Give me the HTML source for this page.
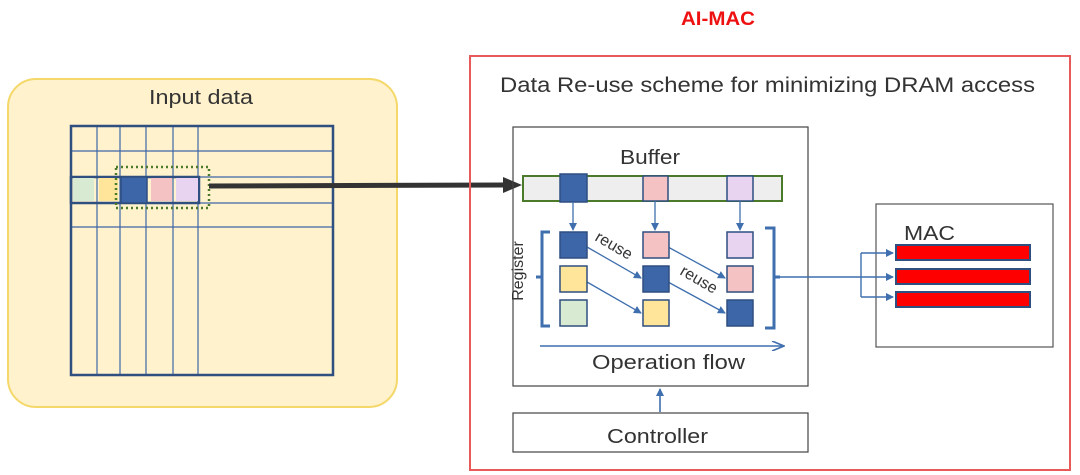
<!DOCTYPE html>
<html><head><meta charset="utf-8"><style>
html,body{margin:0;padding:0;background:#fff;width:1080px;height:475px;overflow:hidden}
svg{display:block}
text{font-family:"Liberation Sans",Arial,sans-serif}
</style></head><body>
<svg width="1080" height="475" viewBox="0 0 1080 475" xmlns="http://www.w3.org/2000/svg">
<defs>
<marker id="ab" markerWidth="8" markerHeight="8" refX="7" refY="4" orient="auto" markerUnits="userSpaceOnUse"><path d="M0,0 L8,4 L0,8 Z" fill="#3f6fae"/></marker>
<marker id="ao" markerWidth="14" markerHeight="10" refX="13" refY="5" orient="auto" markerUnits="userSpaceOnUse"><path d="M1,0 L13,5 L1,10" fill="none" stroke="#3f6fae" stroke-width="1.6"/></marker>
</defs>
<rect x="8" y="79" width="389" height="328" rx="28" fill="#fff2cc" stroke="#f5d86a" stroke-width="2"/>
<text x="149" y="104" font-size="20" fill="#333" textLength="104" lengthAdjust="spacingAndGlyphs">Input data</text>
<g stroke="#3d66a8" stroke-width="1.2">
<line x1="97" y1="126" x2="97" y2="374"/><line x1="120" y1="126" x2="120" y2="374"/>
<line x1="146" y1="126" x2="146" y2="374"/><line x1="173" y1="126" x2="173" y2="374"/>
<line x1="198" y1="126" x2="198" y2="374"/>
<line x1="71" y1="151" x2="333" y2="151"/><line x1="71" y1="177" x2="333" y2="177"/>
<line x1="71" y1="203" x2="333" y2="203"/><line x1="71" y1="227" x2="333" y2="227"/>
</g>
<rect x="71" y="126" width="262" height="249" fill="none" stroke="#2e4f80" stroke-width="2.5"/>
<rect x="71" y="177" width="128" height="26" fill="none" stroke="#2e4f80" stroke-width="2.5"/>
<rect x="73" y="178" width="21" height="23" fill="#d9ead3"/>
<rect x="99" y="178" width="19" height="23" fill="#ffe599"/>
<rect x="121" y="177" width="26" height="26" fill="#3d66a8" stroke="#2e4f80" stroke-width="1.5"/>
<rect x="151" y="178" width="21" height="23" fill="#f4c2c2"/>
<rect x="176" y="178" width="22" height="23" fill="#e8d4f1"/>
<rect x="116" y="167" width="93" height="41" fill="none" stroke="#4a7a2a" stroke-width="2.5" stroke-dasharray="2,3"/>
<line x1="209" y1="186" x2="505" y2="185" stroke="#333" stroke-width="5"/>
<path d="M503,177 L522,185 L503,193 Z" fill="#333"/>
<text x="681" y="25" font-size="19" font-weight="bold" fill="#ee1111" textLength="74" lengthAdjust="spacingAndGlyphs">AI-MAC</text>
<rect x="470" y="56" width="600" height="414" fill="none" stroke="#e85a5a" stroke-width="2"/>
<text x="500" y="92" font-size="21" fill="#333" textLength="535" lengthAdjust="spacingAndGlyphs">Data Re-use scheme for minimizing DRAM access</text>
<rect x="513" y="127" width="295" height="259" fill="none" stroke="#444" stroke-width="1.2"/>
<text x="620" y="164" font-size="20" fill="#333" textLength="60" lengthAdjust="spacingAndGlyphs">Buffer</text>
<rect x="523" y="176" width="259" height="25" fill="#eeeeee" stroke="#4a7a2a" stroke-width="2"/>
<g stroke="#2e4f80" stroke-width="1.5">
<rect x="560" y="174" width="27" height="28" fill="#3d66a8"/>
<rect x="643" y="176" width="25" height="25" fill="#f4c2c2"/>
<rect x="727" y="176" width="26" height="25" fill="#e8d4f1"/>
</g>
<g stroke="#3f6fae" stroke-width="1.3">
<line x1="573" y1="202" x2="573" y2="230" marker-end="url(#ab)"/>
<line x1="655" y1="201" x2="655" y2="230" marker-end="url(#ab)"/>
<line x1="740" y1="201" x2="740" y2="230" marker-end="url(#ab)"/>
<line x1="587" y1="247" x2="641" y2="278" marker-end="url(#ab)"/>
<line x1="587" y1="282" x2="641" y2="313" marker-end="url(#ab)"/>
<line x1="668" y1="247" x2="725" y2="278" marker-end="url(#ab)"/>
<line x1="668" y1="282" x2="725" y2="313" marker-end="url(#ab)"/>
</g>
<g stroke="#2e4f80" stroke-width="1.5">
<rect x="560" y="232" width="27" height="26" fill="#3d66a8"/>
<rect x="560" y="266" width="27" height="26" fill="#ffe599"/>
<rect x="560" y="300" width="27" height="26" fill="#d9ead3"/>
<rect x="643" y="232" width="26" height="26" fill="#f4c2c2"/>
<rect x="643" y="266" width="26" height="26" fill="#3d66a8"/>
<rect x="643" y="300" width="26" height="26" fill="#ffe599"/>
<rect x="727" y="232" width="26" height="26" fill="#e8d4f1"/>
<rect x="727" y="266" width="26" height="26" fill="#f4c2c2"/>
<rect x="727" y="300" width="26" height="26" fill="#3d66a8"/>
</g>
<text x="0" y="0" font-size="16" fill="#333" transform="translate(594,240) rotate(30)">reuse</text>
<text x="0" y="0" font-size="16" fill="#333" transform="translate(679,274) rotate(30)">reuse</text>
<text x="0" y="0" font-size="16" fill="#333" text-anchor="middle" transform="translate(523,271) rotate(-90)">Register</text>
<path d="M550,232 L542,232 L542,277 L536,277 M542,277 L542,326 L550,326" fill="none" stroke="#3f6fae" stroke-width="3"/>
<path d="M765,228 L774,228 L774,277 L780,277 M774,277 L774,328 L765,328" fill="none" stroke="#3f6fae" stroke-width="3"/>
<line x1="540" y1="346" x2="784" y2="346" stroke="#3f6fae" stroke-width="1.6" marker-end="url(#ao)"/>
<text x="592" y="369" font-size="20" fill="#333" textLength="153" lengthAdjust="spacingAndGlyphs">Operation flow</text>
<rect x="513" y="413" width="295" height="39" fill="none" stroke="#444" stroke-width="1.2"/>
<text x="607" y="443" font-size="20" fill="#333" textLength="101" lengthAdjust="spacingAndGlyphs">Controller</text>
<line x1="660" y1="412" x2="660" y2="389" stroke="#3f6fae" stroke-width="1.6" marker-end="url(#ab)"/>
<rect x="876" y="204" width="177" height="143" fill="none" stroke="#555" stroke-width="1.2"/>
<text x="904" y="240" font-size="20" fill="#333" textLength="51" lengthAdjust="spacingAndGlyphs">MAC</text>
<g stroke="#2e4f80" stroke-width="2" fill="#ff0000">
<rect x="896" y="245" width="134" height="15"/>
<rect x="896" y="269" width="134" height="15"/>
<rect x="896" y="292" width="134" height="15"/>
</g>
<g stroke="#3f6fae" stroke-width="1.4" fill="none">
<line x1="780" y1="277" x2="893" y2="277" marker-end="url(#ab)"/>
<polyline points="861,297 861,253"/>
<line x1="861" y1="253" x2="893" y2="253" marker-end="url(#ab)"/>
<line x1="861" y1="297" x2="893" y2="297" marker-end="url(#ab)"/>
</g>
</svg>
</body></html>
